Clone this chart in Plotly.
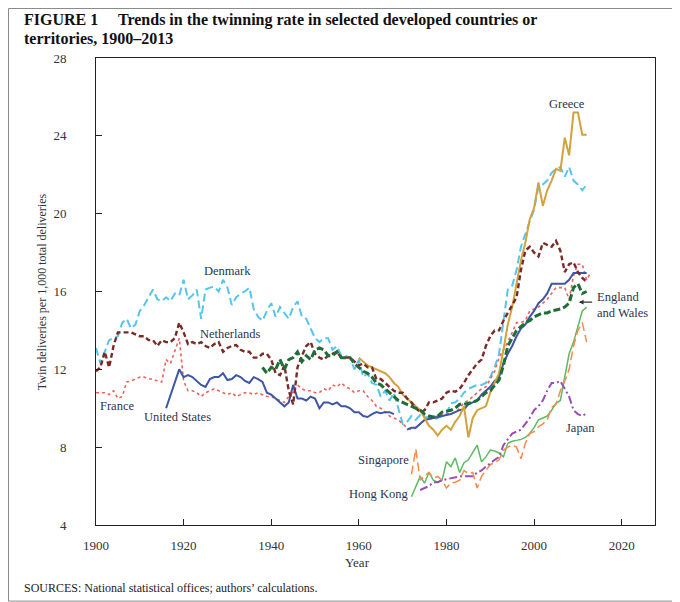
import plotly.graph_objects as go

# ---------------- data ----------------
denmark_start = 1900
denmark = [13.1, 12.3, 12.9, 13.5, 13.6, 13.7, 14.4, 14.6, 14.1, 14.3,
           15.0, 15.3, 15.7, 16.1, 15.6, 15.5, 15.7, 15.5, 15.9, 15.8,
           16.6, 15.6, 15.8, 16.1, 14.6, 16.1, 16.2, 16.25, 16.0, 16.6,
           16.2, 15.3, 15.7, 15.9, 16.0, 16.2, 15.1, 14.7, 14.5, 15.0,
           15.4, 14.7, 15.2, 14.9, 14.6, 15.2, 15.5, 14.7, 14.6, 14.1,
           13.6, 13.4, 13.6, 13.6, 13.0, 13.2, 12.7, 12.7, 12.6, 12.0,
           12.5, 11.6, 11.8, 11.3, 11.2, 10.6, 10.9, 10.4, 10.8, 10.0,
           9.2, 9.3, 9.6, 9.4, 9.65, 9.55, 9.5, 9.4, 9.5, 9.6,
           9.7, 10.25, 10.3, 10.5, 10.8, 11.0, 11.1, 11.2, 11.2, 11.3,
           11.6, 12.1, 12.8, 14.5, 16.1, 16.3, 17.1, 18.3, 19.0, 19.6,
           20.2, 21.4, 21.5, 21.7, 22.1, 22.3, 22.4, 21.9, 22.4, 21.7,
           21.5, 21.2, 21.5]

netherlands_start = 1900
netherlands = [11.9, 12.1, 12.9, 12.1, 13.2, 13.9, 13.9, 13.9, 13.9, 13.8,
               13.7, 13.7, 13.5, 13.5, 13.2, 13.5, 13.4, 13.4, 13.6, 14.4,
               13.9, 13.3, 13.4, 13.3, 13.4, 13.2, 13.1, 13.3, 13.4, 12.9,
               13.1, 13.2, 13.25, 13.0, 12.9, 12.9, 12.6, 12.6, 12.8, 12.8,
               12.5, 11.8, 11.7, 12.2, 10.9, 10.2, 12.1, 12.7, 13.2, 13.4,
               12.8, 12.6, 12.5, 12.7, 12.8, 12.9, 12.6, 12.6, 12.6, 12.4,
               12.2, 12.3, 12.1, 12.1, 11.5, 11.5, 11.3, 11.1, 10.9, 10.8,
               10.8, 10.5, 10.3, 10.0, 9.8, 9.9, 10.3, 10.3, 10.4, 10.5,
               10.8, 10.9, 10.85, 11.0, 11.3, 11.7, 12.0, 12.3, 12.5, 13.2,
               13.7, 14.0, 14.0, 14.5, 14.9, 15.3, 15.7, 17.1, 18.1, 18.3,
               18.0, 17.8, 18.5, 18.4, 18.3, 18.6, 18.1, 17.0, 17.4, 17.5,
               17.0, 16.7, 16.5]

france_start = 1900
france = [10.8, 10.8, 10.8, 10.7, 10.9, 10.5, 10.6, 11.35, 11.4, 11.5,
          11.6, 11.6, 11.5, 11.5, 11.4, 11.35, 12.5, 12.3, 13.0, 13.6,
          11.4, 10.9, 10.9, 10.8, 10.6, 10.8, 10.9, 11.0, 10.9, 10.8,
          10.7, 10.8, 10.6, 10.7, 10.8, 10.8, 10.7, 10.8, 10.7, 10.6,
          10.6, 10.5, 10.4, 10.3, 10.6, 10.85, 11.2, 11.0, 10.9, 10.9,
          10.8, 10.8, 11.0, 10.9, 11.2, 11.1, 11.3, 11.1, 11.0, 10.8,
          10.9, 10.9, 10.6, 10.4, 10.1, 10.0, 9.8, 9.6, 9.5, 9.4,
          9.2, 9.0, 8.9, 9.0, 9.2, 9.4, 9.5, 9.55, 9.6, 9.65,
          9.7, 9.75, 9.8, 10.0, 10.3, 10.4, 10.6, 10.8, 11.0, 11.1,
          11.5, 11.9, 12.6, 13.0, 13.4, 13.9, 14.4, 14.4, 14.5, 15.0,
          15.1, 15.2, 15.4, 15.6, 15.9, 16.2, 16.2, 16.2, 15.6, 16.8,
          17.4, 17.4, 16.6, 17.0]

us_start = 1916
us = [10.0, 10.7, 11.4, 12.0,
      11.6, 11.7, 11.6, 11.4, 11.2, 11.1, 11.5, 11.6, 11.6, 11.8,
      11.45, 11.5, 11.7, 11.6, 11.4, 11.3, 11.6, 11.5, 11.35, 10.8,
      10.7, 10.5, 10.3, 10.1, 10.3, 11.2, 10.5, 10.5, 10.4, 10.6,
      10.5, 10.0, 10.3, 10.3, 10.2, 10.3, 10.1, 10.1, 10.0, 9.8,
      9.8, 9.6, 9.55, 9.7, 9.8, 9.75, 9.8, 9.8, 9.7, None,
      None, 8.9, 9.0, 9.0, 9.2, 9.4, 9.45, 9.5, 9.55, 9.6,
      9.65, 9.7, 9.8, 9.9, 9.95, 10.2, 10.3, 10.4, 10.7, 10.9,
      11.1, 11.4, 11.6, 12.3, 12.8, 13.2, 13.7, 14.1, 14.3, 14.7,
      15.0, 15.4, 15.6, 15.9, 16.4, 16.4, 16.4, 16.4, 16.6, 16.95,
      16.95, 16.95, 16.95]

england_start = 1938
england_wales = [12.1, 11.8,
                 12.1, 12.0, 12.5, 12.0, 12.5, 12.6, 12.9, 12.4, 12.7, 12.5,
                 13.0, 13.1, 13.0, 12.7, 12.7, 12.9, 12.6, 12.6, 12.6, 12.3,
                 12.1, 11.9, 11.8, 11.6, 11.3, 11.2, 11.0, 10.8, 10.6, 10.4,
                 10.3, 10.2, 10.1, 10.0, 9.9, 9.7, 9.6, 9.55, 9.6, 9.8,
                 9.85, 9.9, 10.0, 10.2, 10.2, 10.25, 10.3, 10.4, 10.6, 10.8,
                 10.9, 11.2, 11.45, 12.2, 13.2, 13.6, 14.0, 14.2, 14.4, 14.5,
                 14.7, 14.8, 14.9, 14.9, 15.0, 15.05, 15.1, 15.2, 15.4, 16.2,
                 16.4, 15.9, 16.0]

greece_start = 1960
greece = [12.6, 12.4, 12.2, 12.1, 12.0, 11.9, 11.8, 11.6, 11.3, 11.1,
          10.7, 10.5, 10.3, 10.1, 9.9, 9.5, 9.1, 8.9, 8.6, 8.9,
          9.1, 8.9, 9.3, 9.6, 10.1, 8.5, 9.5, 9.9, 10.0, 10.1,
          10.8, 11.3, 11.8, 13.0, 14.3, 15.2, 16.4, 17.6, 18.5, 19.7,
          20.3, 21.6, 20.4, 21.2, 21.7, 22.3, 22.2, 23.9, 23.0, 25.2,
          25.2, 24.05, 24.05]

japan_start = 1974
japan = [5.8, 5.9, 6.0, 6.2, 6.2, 6.3,
         6.35, 6.4, 6.45, 6.5, 6.5, 6.5, 6.5, 6.7, 6.8, 7.0,
         7.2, 7.35, 7.5, 8.1, 8.4, 8.7, 8.8, 8.9, 9.2, 9.5,
         9.9, 10.1, 10.4, 10.9, 11.3, 11.3, 11.4, 11.0, 10.6, 9.9,
         9.7, 9.6, 9.75]

singapore_start = 1972
singapore = [6.6, 7.9, 6.3, 6.5, 6.7, 6.4, 6.5, 6.3,
             5.9, 6.15, 6.2, 6.3, 6.8, 6.65, 6.7, 5.9, 6.5, 6.8,
             7.1, 7.2, 7.35, 7.85, 8.0, 8.1, 8.0, 7.4, 8.2, 8.7,
             8.8, 9.05, 9.2, 9.4, 10.05, 10.2, 10.9, 11.4, 12.0, 13.2,
             14.0, 14.4, 13.4]

hongkong_start = 1972
hong_kong = [5.45, 6.0, 6.5, 6.15, 6.7, 6.3, 6.2, 6.3,
             7.25, 7.0, 7.45, 6.7, 7.2, 7.35, 7.75, 8.1, 7.25, 7.5,
             7.85, 7.8, 7.7, 7.5, 8.2, 8.3, 8.35, 8.4, 8.5, 8.7,
             9.0, 9.4, 9.5, 9.6, 9.9, 10.25, 10.4, 11.6, 12.8, 13.4,
             14.2, 15.0, 15.2]

x_ticks = [1900, 1920, 1940, 1960, 1980, 2000, 2020]
y_ticks = [4, 8, 12, 16, 20, 24, 28]

SERIF = "Liberation Serif, Times New Roman, serif"
LABEL_COLOR = "#2a3550"

series = [
    ("Denmark", denmark_start, denmark, "#55C5EE", 2.0, "8px,4px"),
    ("France", france_start, france, "#F0625C", 1.6, "dot"),
    ("United States", us_start, us, "#3E56A6", 2.0, "solid"),
    ("Greece", greece_start, greece, "#D2A23C", 2.0, "solid"),
    ("Netherlands", netherlands_start, netherlands, "#7A2B28", 2.4, "5px,3px"),
    ("England and Wales", england_start, england_wales, "#1E6E38", 3.0, "7px,3px"),
    ("Hong Kong", hongkong_start, hong_kong, "#5DBB63", 1.5, "solid"),
    ("Singapore", singapore_start, singapore, "#F58A4B", 1.5, "9px,4px"),
    ("Japan", japan_start, japan, "#9A4DB5", 2.0, "8px,3px,2px,3px"),
]

fig = go.Figure()
for name, start, vals, color, width, dash in series:
    fig.add_trace(go.Scatter(
        x=[start + i for i in range(len(vals))], y=vals, mode="lines", name=name,
        line=dict(color=color, width=width, dash=dash),
        connectgaps=False, showlegend=False, hoverinfo="skip"))

labels = [
    ("Greece", 2007.5, 25.65, "center"),
    ("Denmark", 1930.1, 17.06, "center"),
    ("Netherlands", 1930.6, 13.8, "center"),
    ("France", 1904.8, 10.1, "center"),
    ("United States", 1918.7, 9.55, "center"),
    ("Singapore", 1971.9, 7.34, "right"),
    ("Hong Kong", 1971.7, 5.6, "right"),
    ("Japan", 2010.5, 9.0, "center"),
    ("England<br>and Wales", 2013.8, 15.3, "left"),
]
for text, xv, yv, anchor in labels:
    fig.add_annotation(x=xv, y=yv, xref="x", yref="y", text=text, showarrow=False,
                       xanchor=anchor, yanchor="middle", align="left",
                       font=dict(family=SERIF, size=12.5, color=LABEL_COLOR))

# arrow for England and Wales
fig.add_annotation(x=2010.2, y=15.45, ax=2013.6, ay=15.45, xref="x", yref="y",
                   axref="x", ayref="y", text="", showarrow=True, arrowhead=2,
                   arrowsize=0.8, arrowwidth=1.2, arrowcolor="#333333")

# title (two lines)
fig.add_annotation(x=-0.1324, y=1.0814, xref="paper", yref="paper", xanchor="left",
                   yanchor="middle", align="left", showarrow=False,
                   text="<b>FIGURE 1\u2003 Trends in the twinning rate in selected developed countries or</b>",
                   font=dict(family=SERIF, size=16, color="#111111"))
fig.add_annotation(x=-0.1324, y=1.0428, xref="paper", yref="paper", xanchor="left",
                   yanchor="middle", align="left", showarrow=False,
                   text="<b>territories, 1900\u20132013</b>",
                   font=dict(family=SERIF, size=16, color="#111111"))
# y title
fig.add_annotation(x=-0.097, y=0.5, xref="paper", yref="paper", textangle=-90,
                   xanchor="center", yanchor="middle",
                   showarrow=False, text="Twin deliveries per 1,000 total deliveries",
                   font=dict(family=SERIF, size=12, color="#333333"))
# x title
fig.add_annotation(x=0.468, y=-0.081, xref="paper", yref="paper", showarrow=False,
                   xanchor="center", yanchor="middle",
                   text="Year", font=dict(family=SERIF, size=13, color="#333333"))
# sources
fig.add_annotation(x=-0.1324, y=-0.135, xref="paper", yref="paper", xanchor="left",
                   yanchor="middle", showarrow=False,
                   text="SOURCES: National statistical offices; authors\u2019 calculations.",
                   font=dict(family=SERIF, size=12, color="#222222"))

# outer frame
fig.add_shape(type="rect", xref="paper", yref="paper", x0=-0.1565, x1=1.032,
              y0=-0.163, y1=1.106, line=dict(color="#8a8a8a", width=1))

fig.update_xaxes(range=[1900, 2027.6], tickvals=x_ticks, ticks="inside", ticklen=6,
                 tickcolor="#222", showline=True, linecolor="#222", linewidth=1,
                 mirror=True, showgrid=False, zeroline=False, ticklabelstandoff=8,
                 tickfont=dict(family=SERIF, size=13, color="#333"))
fig.update_yaxes(range=[4, 28], tickvals=y_ticks, ticks="inside", ticklen=6,
                 tickcolor="#222", showline=True, linecolor="#222", linewidth=1,
                 mirror=True, showgrid=False, zeroline=False, ticklabelstandoff=26,
                 tickfont=dict(family=SERIF, size=13, color="#333"))

fig.update_layout(width=680, height=602, margin=dict(l=88, r=33, t=50, b=85),
                  paper_bgcolor="white", plot_bgcolor="white", showlegend=False)

fig.write_html("out.html")
